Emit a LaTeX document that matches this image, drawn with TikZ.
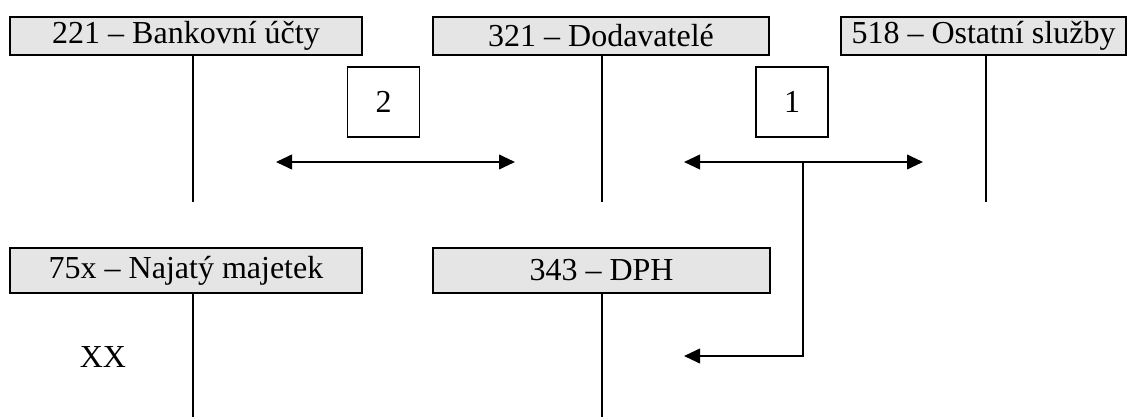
\documentclass[tikz,border=0pt]{standalone}
\usepackage{fontspec}
\setmainfont{Liberation Serif}
\usetikzlibrary{arrows.meta}
\newdimen\pxu
\pxu=0.75pt
\begin{document}
\begin{tikzpicture}[x=0.75pt,y=-0.75pt,
  lbl/.style={font=\fontsize{24}{28}\selectfont},
  acct/.style={lbl,draw=black,line width=0.9pt,fill=black!10,inner sep=0pt,
    minimum height=38*\pxu},
  numbox/.style={lbl,draw=black,line width=0.9pt,fill=white,inner sep=0pt,
    minimum width=72*\pxu,minimum height=70*\pxu},
  tline/.style={line width=1pt},
  flow/.style={line width=1.4pt,{Triangle[length=12pt,width=11pt]}-{Triangle[length=12pt,width=11pt]}},
  flowone/.style={line width=1.4pt,-{Triangle[length=12pt,width=11pt]}}]
\useasboundingbox (0,0) rectangle (1130,417);

% account headers
\node[acct,minimum width=352*\pxu] (bank) at (186,36) {221 – Bankovní účty};
\node[acct,minimum width=336*\pxu] (dod) at (601,36) {321 – Dodavatelé};
\node[acct,minimum width=285*\pxu] (slu) at (983.5,36) {518 – Ostatní služby};
\node[acct,minimum width=352*\pxu,minimum height=45*\pxu] (naj) at (186,270.5) {75x – Najatý majetek};
\node[acct,minimum width=337*\pxu,minimum height=45*\pxu] (dph) at (601.5,270.5) {343 – DPH};

% T-account stems
\coordinate (bankE) at (193,202);
\coordinate (dodE) at (602,202);
\coordinate (sluE) at (986,202);
\coordinate (najE) at (193,417);
\coordinate (dphE) at (602,417);
\draw[tline] (bank.south -| bankE) -- (bankE);
\draw[tline] (dod.south -| dodE) -- (dodE);
\draw[tline] (slu.south -| sluE) -- (sluE);
\draw[tline] (naj.south -| najE) -- (najE);
\draw[tline] (dph.south -| dphE) -- (dphE);

% step numbers
\node[numbox] (n2) at (383.5,102) {2};
\node[numbox] (n1) at (792,102) {1};

% flows
\coordinate (a2l) at (276,162);
\coordinate (a2r) at (515,162);
\coordinate (a1l) at (684,162);
\coordinate (a1r) at (923,162);
\coordinate (br) at (803,162);
\coordinate (brB) at (803,356);
\coordinate (dphT) at (684,356);
\draw[flow] (a2l) -- (a2r);
\draw[flow] (a1l) -- (a1r);
\draw[flowone] (br) -- (brB) -- (dphT);

\node[lbl] (xx) at (103,357) {XX};
\end{tikzpicture}
\end{document}
